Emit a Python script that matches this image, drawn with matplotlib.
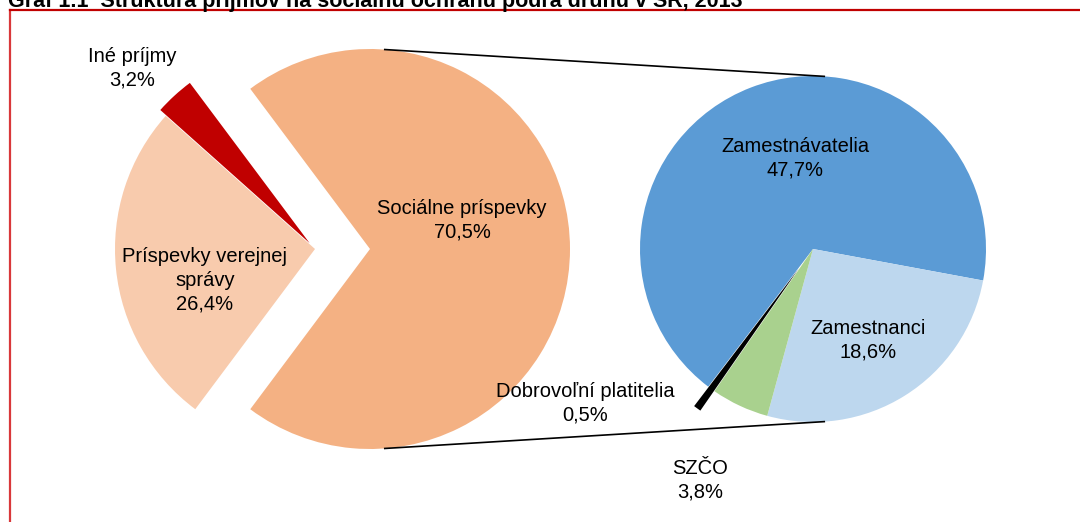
import numpy as np
import matplotlib
matplotlib.use("Agg")
import matplotlib.pyplot as plt

plt.rcParams['font.family'] = ['Liberation Sans Narrow', 'Liberation Sans', 'DejaVu Sans']

title = "Graf 1.1  Štruktúra príjmov na sociálnu ochranu podľa druhu v SR, 2013"

# main pie
main_labels = ["Sociálne príspevky", "Iné príjmy", "Príspevky verejnej\nsprávy"]
main_values = [70.5, 3.2, 26.4]
main_colors = ["#F4B183", "#C00000", "#F8CBAD"]

# breakdown of social contributions
sub_labels = ["Zamestnávatelia", "Zamestnanci", "SZČO", "Dobrovoľní platitelia"]
sub_values = [47.7, 18.6, 3.8, 0.5]
sub_colors = ["#5B9BD5", "#BDD7EE", "#A9D18E", "#000000"]

W, H = 1080, 522
fig = plt.figure(figsize=(W / 100, H / 100), dpi=100)
ax = fig.add_axes([0, 0, 1, 1])

c1, r1 = (315, 273), 200
c2, r2 = (813, 273), 173

ax.pie(main_values, colors=main_colors, center=c1, radius=r1,
       startangle=-main_values[0] / sum(main_values) * 180, counterclock=True,
       explode=[55, 8, 0], wedgeprops=dict(linewidth=0))

sub_start = -10.5 + sub_values[0] / sum(sub_values) * 360
ax.pie(sub_values, colors=sub_colors, center=c2, radius=r2,
       startangle=sub_start, counterclock=False,
       explode=[0, 0, 0, 24], wedgeprops=dict(linewidth=0))

# connector lines
ex = c1[0] + 55
a = np.deg2rad(86)
for s in (1, -1):
    ax.plot([ex + r1 * np.cos(a), c2[0] + r2 * np.cos(a)],
            [c1[1] + s * r1 * np.sin(a), c2[1] + s * r2 * np.sin(a)],
            color="black", lw=1.2, solid_capstyle="butt")

def fmt(name, v):
    return f"{name}\n{v:.1f}%".replace(".", ",")

fs = 14.5
ls = 1.3
main_pos = [(462, 302), (132, 454), (205, 242)]
for name, v, (x, y) in zip(main_labels, main_values, main_pos):
    ax.text(x, y, fmt(name, v), ha="center", va="center", fontsize=fs, linespacing=ls)

sub_pos = [(795, 364), (868, 182), (700, 42), (585, 119)]
for name, v, (x, y) in zip(sub_labels, sub_values, sub_pos):
    ax.text(x, y, fmt(name, v), ha="center", va="center", fontsize=fs, linespacing=ls)

# frame and clipped title
ax.plot([10, 10], [0, H - 10], color="#D9383A", lw=1.6)
ax.plot([10, W], [H - 10, H - 10], color="#C00000", lw=1.6)
ax.text(8, H - 7, title, fontsize=15.5, fontweight="bold",
        family=["Liberation Sans", "DejaVu Sans"], ha="left", va="baseline")

ax.set_xlim(0, W)
ax.set_ylim(0, H)
ax.set_aspect("equal")
ax.axis("off")

fig.savefig("out.png", dpi=100, facecolor="white")
